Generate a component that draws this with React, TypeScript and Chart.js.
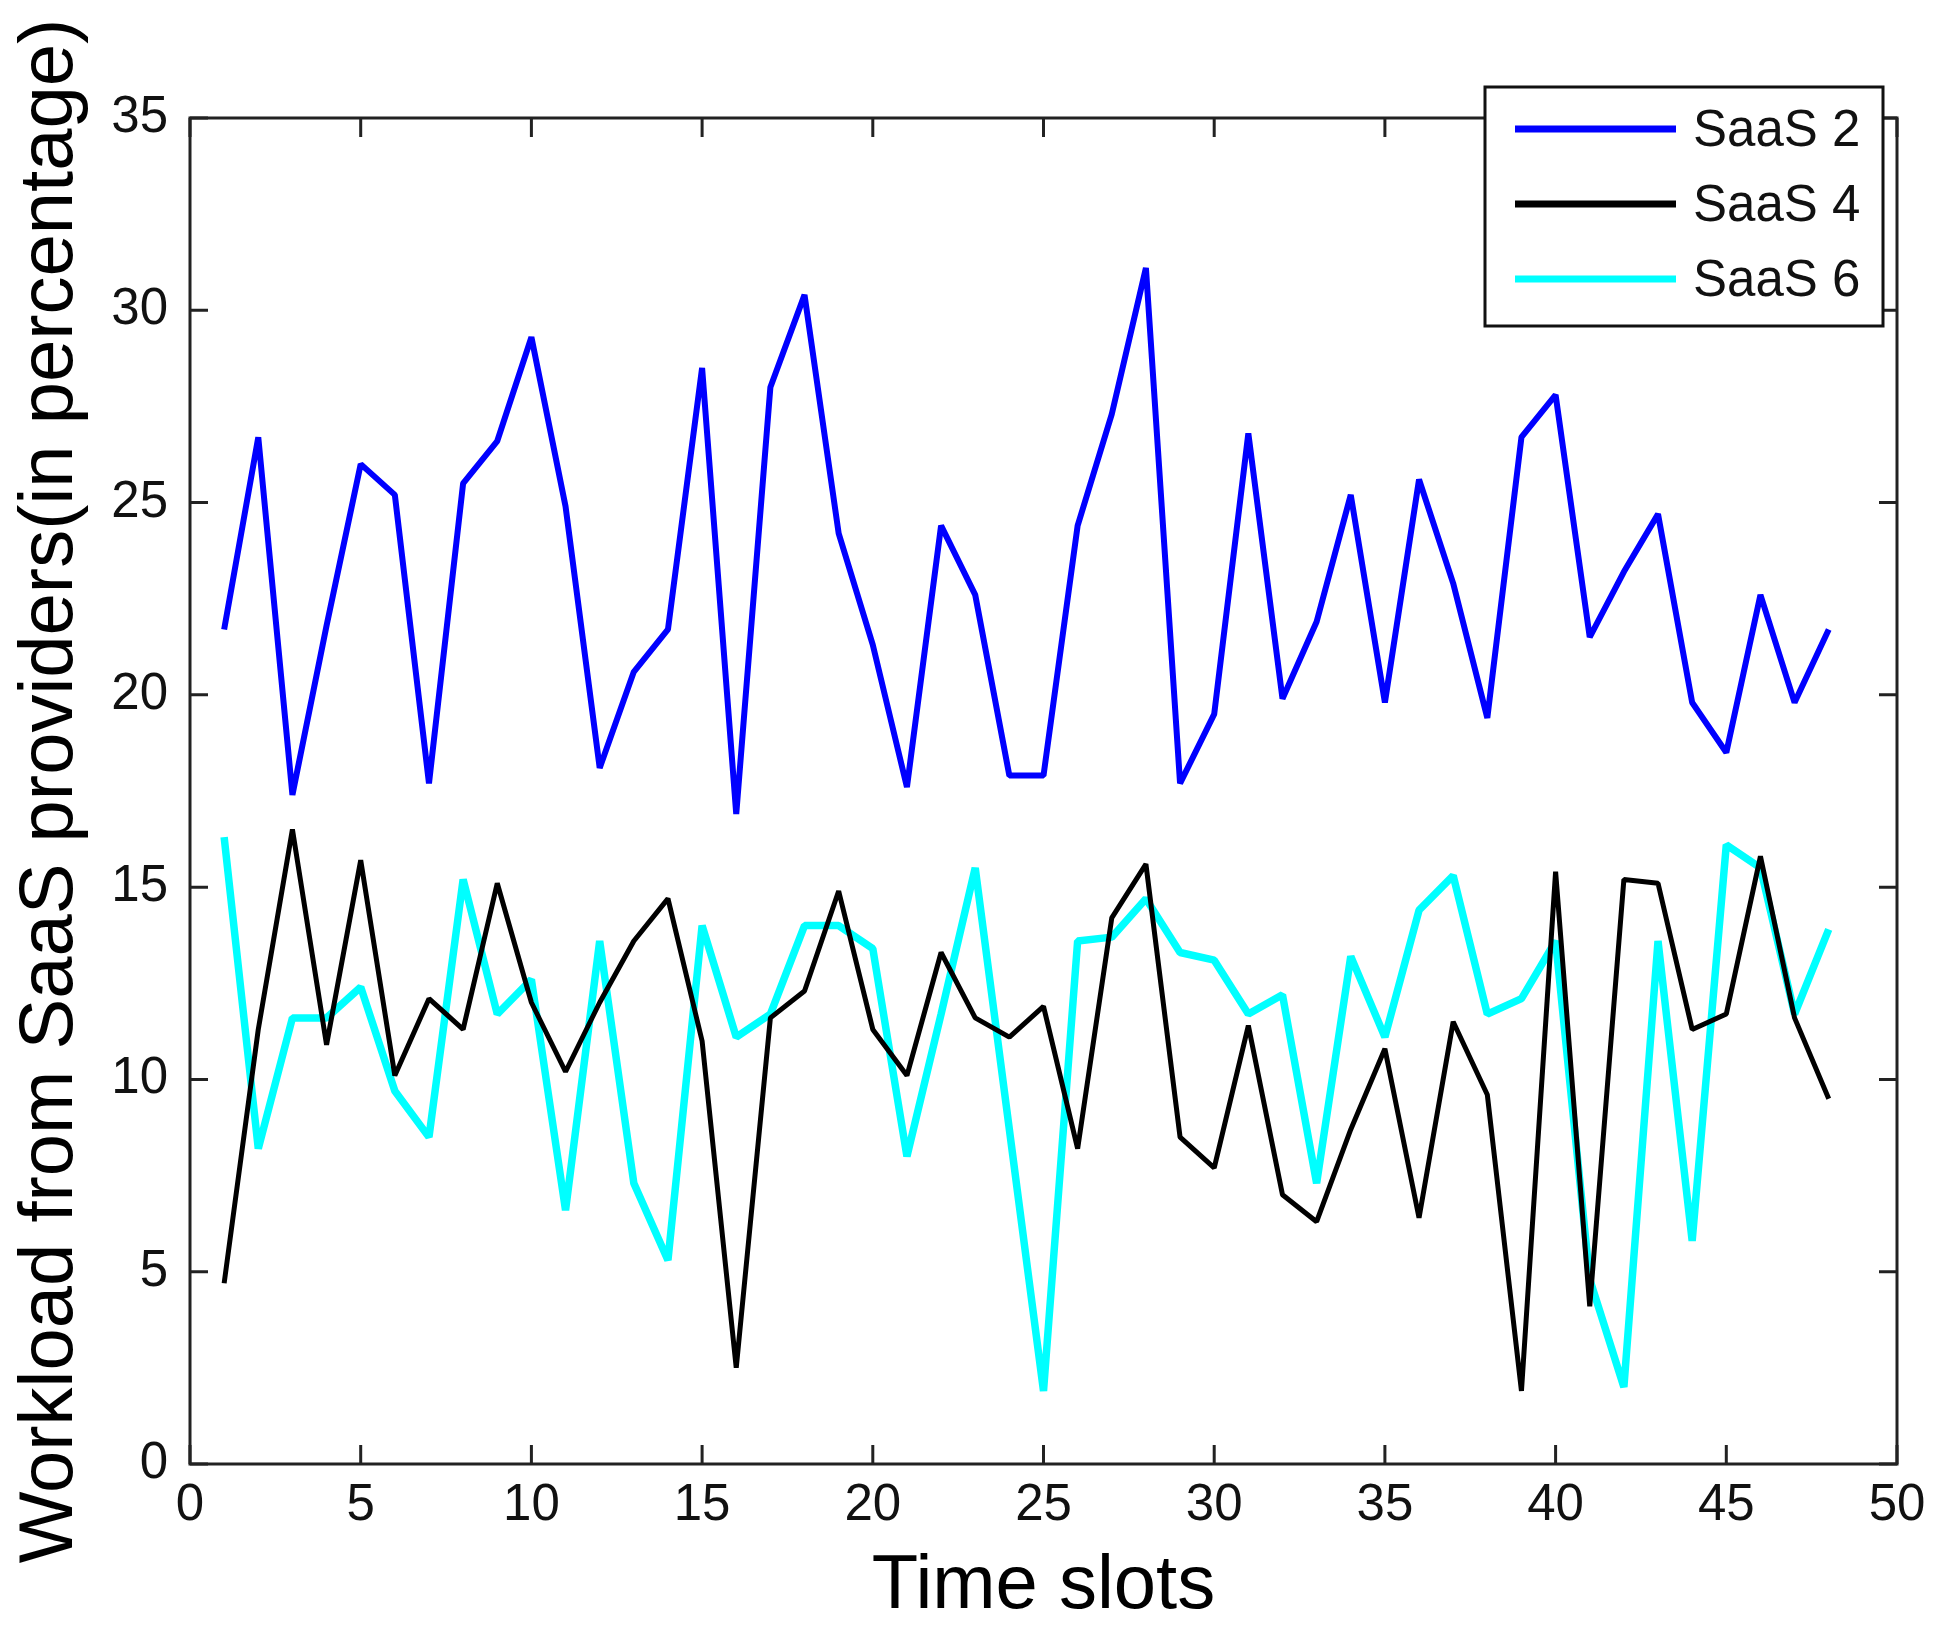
import { useEffect, useRef } from "react";
import { Chart, registerables, type Plugin } from "chart.js";

Chart.register(...registerables);

const FONT = '"Liberation Sans", Arial, Helvetica, sans-serif';

/* Time slots on the x axis */
const SLOTS = [
  1, 2, 3, 4, 5, 6, 7, 8, 9, 10, 11, 12, 13, 14, 15, 16,
  17, 18, 19, 20, 21, 22, 23, 24, 25, 26, 27, 28, 29, 30, 31, 32,
  33, 34, 35, 36, 37, 38, 39, 40, 41, 42, 43, 44, 45, 46, 47, 48,
];

/* Workload (%) */
const SAAS2 = [
  21.7, 26.7, 17.4, 21.8, 26.0, 25.2, 17.7, 25.5, 26.6, 29.3, 24.9, 18.1, 20.6, 21.7, 28.5, 16.9,
  28.0, 30.4, 24.2, 21.3, 17.6, 24.4, 22.6, 17.9, 17.9, 24.4, 27.3, 31.1, 17.7, 19.5, 26.8, 19.9,
  21.9, 25.2, 19.8, 25.6, 22.9, 19.4, 26.7, 27.8, 21.5, 23.2, 24.7, 19.8, 18.5, 22.6, 19.8, 21.7,
];
const SAAS4 = [
  4.7, 11.3, 16.5, 10.9, 15.7, 10.1, 12.1, 11.3, 15.1, 12.0, 10.2, 12.0, 13.6, 14.7, 11.0, 2.5,
  11.6, 12.3, 14.9, 11.3, 10.1, 13.3, 11.6, 11.1, 11.9, 8.2, 14.2, 15.6, 8.5, 7.7, 11.4, 7.0,
  6.3, 8.7, 10.8, 6.4, 11.5, 9.6, 1.9, 15.4, 4.1, 15.2, 15.1, 11.3, 11.7, 15.8, 11.6, 9.5,
];
const SAAS6 = [
  16.3, 8.2, 11.6, 11.6, 12.4, 9.7, 8.5, 15.2, 11.7, 12.6, 6.6, 13.6, 7.3, 5.3, 14.0, 11.1,
  11.7, 14.0, 14.0, 13.4, 8.0, 11.7, 15.5, 8.7, 1.9, 13.6, 13.7, 14.7, 13.3, 13.1, 11.7, 12.2,
  7.3, 13.2, 11.1, 14.4, 15.3, 11.7, 12.1, 13.6, 4.8, 2.0, 13.6, 5.8, 16.1, 15.5, 11.7, 13.9,
];

const X_TICKS = [0, 5, 10, 15, 20, 25, 30, 35, 40, 45, 50];
const Y_TICKS = [0, 5, 10, 15, 20, 25, 30, 35];

const SERIES = [
  { label: "SaaS 2", values: SAAS2, color: "#0000ff", width: 6 },
  { label: "SaaS 4", values: SAAS4, color: "#000000", width: 5 },
  { label: "SaaS 6", values: SAAS6, color: "#00ffff", width: 7.5 },
];

/* MATLAB-style box: frame, inward ticks on all sides, boxed legend */
const boxPlugin: Plugin<"line"> = {
  id: "matlabBox",
  afterDraw(chart) {
    const { ctx, chartArea: a, scales } = chart;
    ctx.save();
    ctx.strokeStyle = "#222";
    ctx.lineWidth = 3;
    ctx.strokeRect(a.left, a.top, a.right - a.left, a.bottom - a.top);

    ctx.beginPath();
    X_TICKS.forEach((v) => {
      const px = scales.x.getPixelForValue(v);
      ctx.moveTo(px, a.bottom);
      ctx.lineTo(px, a.bottom - 19);
      ctx.moveTo(px, a.top);
      ctx.lineTo(px, a.top + 19);
    });
    Y_TICKS.forEach((v) => {
      const py = scales.y.getPixelForValue(v);
      ctx.moveTo(a.left, py);
      ctx.lineTo(a.left + 18, py);
      ctx.moveTo(a.right, py);
      ctx.lineTo(a.right - 18, py);
    });
    ctx.stroke();

    // legend box
    const bx = a.right - 412;
    const by = a.top - 31;
    const bw = 398;
    const bh = 239;
    ctx.fillStyle = "#fff";
    ctx.fillRect(bx, by, bw, bh);
    ctx.strokeStyle = "#111";
    ctx.lineWidth = 3;
    ctx.strokeRect(bx, by, bw, bh);

    ctx.font = `51px ${FONT}`;
    ctx.textBaseline = "middle";
    ctx.textAlign = "left";
    chart.data.datasets.forEach((ds, i) => {
      const ry = by + 42 + i * 75;
      ctx.beginPath();
      ctx.strokeStyle = ds.borderColor as string;
      ctx.lineWidth = 7;
      ctx.moveTo(bx + 30, ry);
      ctx.lineTo(bx + 191, ry);
      ctx.stroke();
      ctx.fillStyle = "#111";
      ctx.fillText(ds.label ?? "", bx + 208, ry + 3);
    });
    ctx.restore();
  },
};

export default function App() {
  const canvasRef = useRef<HTMLCanvasElement>(null);

  useEffect(() => {
    if (!canvasRef.current) return;

    const chart = new Chart(canvasRef.current, {
      type: "line",
      data: {
        datasets: SERIES.map((s) => ({
          label: s.label,
          data: SLOTS.map((x, i) => ({ x, y: s.values[i] })),
          borderColor: s.color,
          backgroundColor: s.color,
          borderWidth: s.width,
          borderJoinStyle: "bevel" as const,
          pointRadius: 0,
          tension: 0,
          fill: false,
        })),
      },
      options: {
        animation: false,
        responsive: true,
        maintainAspectRatio: false,
        devicePixelRatio: 1,
        layout: { padding: { top: 118, right: 40, left: 0, bottom: 0 } },
        plugins: {
          legend: { display: false },
          tooltip: { enabled: false },
        },
        scales: {
          x: {
            type: "linear",
            min: X_TICKS[0],
            max: X_TICKS[X_TICKS.length - 1],
            grid: { display: false, drawTicks: false },
            border: { display: false },
            afterFit: (scale) => {
              scale.height = 166;
            },
            ticks: {
              stepSize: 5,
              color: "#111",
              padding: 11,
              maxRotation: 0,
              font: { family: FONT, size: 51 },
            },
            title: {
              display: true,
              text: "Time slots",
              color: "#000",
              font: { family: FONT, size: 76, lineHeight: 1 },
              padding: { top: 0, bottom: 5 },
            },
          },
          y: {
            min: Y_TICKS[0],
            max: Y_TICKS[Y_TICKS.length - 1],
            grid: { display: false, drawTicks: false },
            border: { display: false },
            afterFit: (scale) => {
              scale.width = 190;
            },
            ticks: {
              stepSize: 5,
              color: "#111",
              padding: 22,
              font: { family: FONT, size: 51 },
            },
            title: {
              display: true,
              text: "Workload from SaaS providers(in percentage)",
              color: "#000",
              font: { family: FONT, size: 76, lineHeight: 1 },
              padding: { top: 13, bottom: 0 },
            },
          },
        },
      },
      plugins: [boxPlugin],
    });

    return () => chart.destroy();
  }, []);

  return (
    <div
      style={{
        position: "fixed",
        left: 0,
        top: 0,
        width: 1937,
        height: 1630,
        background: "#fff",
      }}
    >
      <canvas ref={canvasRef} />
    </div>
  );
}
